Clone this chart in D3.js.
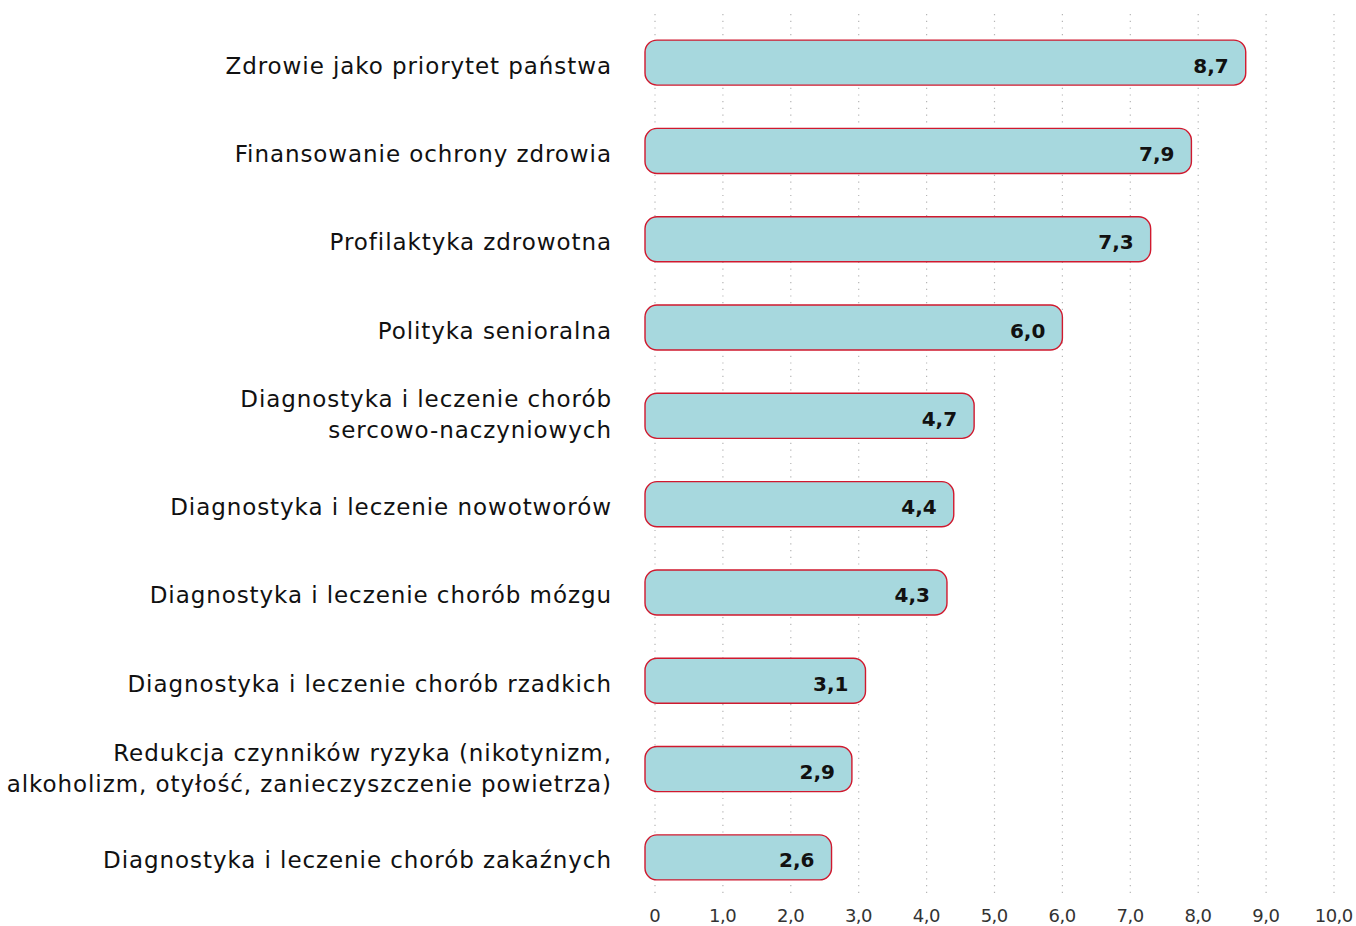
<!DOCTYPE html>
<html>
<head>
<meta charset="utf-8">
<script src="https://cdn.jsdelivr.net/npm/d3@7"></script>
<style>
  body { margin: 0; background: #fff; }
  text { font-family: "DejaVu Sans", "Open Sans", sans-serif; }
</style>
</head>
<body>
<div id="chart"></div>
<script>
const width = 1356, height = 926;

// data
const categories = [
    ["Zdrowie jako priorytet państwa"],
    ["Finansowanie ochrony zdrowia"],
    ["Profilaktyka zdrowotna"],
    ["Polityka senioralna"],
    ["Diagnostyka i leczenie chorób", "sercowo-naczyniowych"],
    ["Diagnostyka i leczenie nowotworów"],
    ["Diagnostyka i leczenie chorób mózgu"],
    ["Diagnostyka i leczenie chorób rzadkich"],
    ["Redukcja czynników ryzyka (nikotynizm,", "alkoholizm, otyłość, zanieczyszczenie powietrza)"],
    ["Diagnostyka i leczenie chorób zakaźnych"]
];
const values = [8.7, 7.9, 7.3, 6.0, 4.7, 4.4, 4.3, 3.1, 2.9, 2.6];
const tickValues = [0, 1, 2, 3, 4, 5, 6, 7, 8, 9, 10];

const svg = d3.select("#chart").append("svg")
    .attr("width", width)
    .attr("height", height);

const x = d3.scaleLinear().domain([0, 10]).range([655, 1334]);
const y = d3.scaleBand()
    .domain(d3.range(values.length))
    .range([18, 902])
    .paddingInner(0.49)
    .paddingOuter(0.25);

const fmt = d => d === 0 ? "0" : d3.format(".1f")(d).replace(".", ",");

// fallback font: tune letter spacing so labels take about the same room as the original
function spacingFor(str, size, weight, target) {
    const t = svg.append("text").attr("font-size", size).attr("font-weight", weight).text(str);
    const w = t.node().getComputedTextLength();
    t.remove();
    return (target - w) / str.length;
}
const labelSize = 23;
const labelSpacing = Math.max(0, (spacingFor("Zdrowie jako priorytet państwa", labelSize, 400, 389) +
    spacingFor("alkoholizm, otyłość, zanieczyszczenie powietrza)", labelSize, 400, 601)) / 2);
const tickSpacing = spacingFor("10,0", 18, 400, 38);

// dotted grid
svg.append("g")
    .selectAll("line")
    .data(tickValues)
    .enter().append("line")
    .attr("x1", d => x(d)).attr("x2", d => x(d))
    .attr("y1", 14).attr("y2", 897)
    .attr("stroke", "#b5b5b5")
    .attr("stroke-width", 1.2)
    .attr("stroke-dasharray", "1.2,5.5");

// tick labels
svg.append("g")
    .selectAll("text")
    .data(tickValues)
    .enter().append("text")
    .attr("x", d => x(d) + tickSpacing / 2)
    .attr("y", 922)
    .attr("text-anchor", "middle")
    .attr("font-size", 18)
    .attr("letter-spacing", tickSpacing)
    .attr("fill", "#333")
    .text(fmt);

// bars
const bars = svg.append("g")
    .selectAll("g")
    .data(values)
    .enter().append("g");

bars.append("rect")
    .attr("x", x(0) - 10)
    .attr("y", (d, i) => y(i))
    .attr("width", d => x(d) - x(0) + 10)
    .attr("height", y.bandwidth())
    .attr("rx", 12).attr("ry", 12)
    .attr("fill", "#a7d8de")
    .attr("stroke", "#d0192e")
    .attr("stroke-width", 1.4);

bars.append("text")
    .attr("x", d => x(d) - 17)
    .attr("y", (d, i) => y(i) + y.bandwidth() / 2 + 10)
    .attr("text-anchor", "end")
    .attr("font-size", 20)
    .attr("font-weight", 700)
    .attr("fill", "#111")
    .text(d => d3.format(".1f")(d).replace(".", ","));

// category labels
svg.append("g")
    .selectAll("text")
    .data(categories)
    .enter().append("text")
    .attr("text-anchor", "end")
    .attr("font-size", labelSize)
    .attr("letter-spacing", labelSpacing)
    .attr("fill", "#111")
    .each(function(lines, i) {
        const cy = y(i) + y.bandwidth() / 2;
        const t = d3.select(this);
        const shift = lines.length > 1 ? -4 : 0;
        lines.forEach((line, j) => {
            t.append("tspan")
                .attr("x", 611 + labelSpacing)
                .attr("y", cy + 11 + shift + (j - (lines.length - 1) / 2) * 31)
                .text(line);
        });
    });
</script>
</body>
</html>
